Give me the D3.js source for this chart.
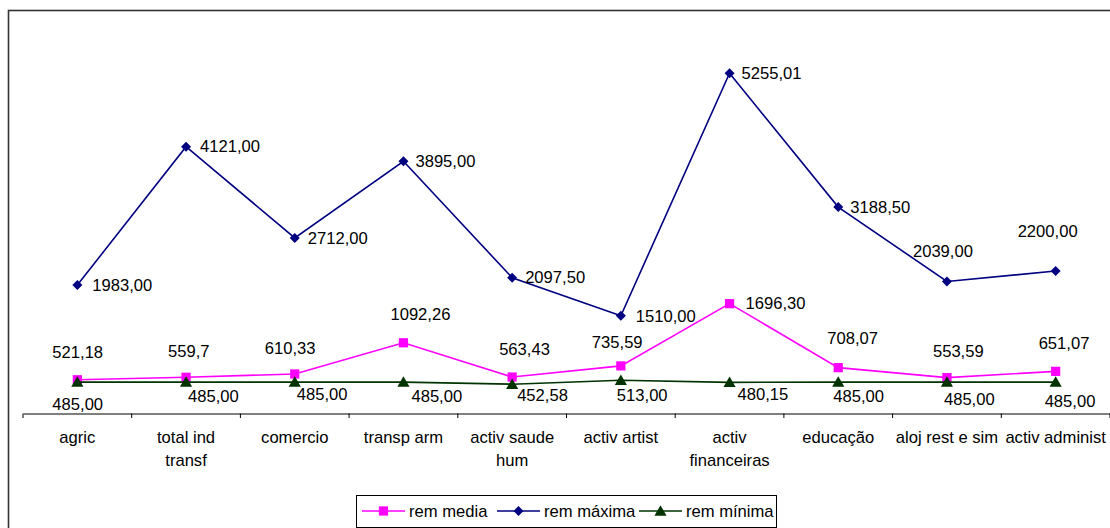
<!DOCTYPE html>
<html>
<head>
<meta charset="utf-8">
<script src="https://cdn.jsdelivr.net/npm/d3@7"></script>
<style>
  html, body { margin: 0; padding: 0; background: #fff; overflow: hidden; }
  svg { display: block; font-family: "Liberation Sans", Arial, sans-serif; }
</style>
</head>
<body>
<svg id="chart" width="1110" height="528"></svg>
<script>
// Categories (line breaks where the axis label wraps)
const categories = [
  "agric", "total ind\ntransf", "comercio", "transp arm", "activ saude\nhum",
  "activ artist", "activ\nfinanceiras", "educação", "aloj rest e sim", "activ administ"
];

// Series values
const remMedia  = [521.18, 559.7, 610.33, 1092.26, 563.43, 735.59, 1696.30, 708.07, 553.59, 651.07];
const remMaxima = [1983.00, 4121.00, 2712.00, 3895.00, 2097.50, 1510.00, 5255.01, 3188.50, 2039.00, 2200.00];
const remMinima = [485.00, 485.00, 485.00, 485.00, 452.58, 513.00, 480.15, 485.00, 485.00, 485.00];

// Value label texts (as printed)
const labMedia  = ["521,18", "559,7", "610,33", "1092,26", "563,43", "735,59", "1696,30", "708,07", "553,59", "651,07"];
const labMaxima = ["1983,00", "4121,00", "2712,00", "3895,00", "2097,50", "1510,00", "5255,01", "3188,50", "2039,00", "2200,00"];
const labMinima = ["485,00", "485,00", "485,00", "485,00", "452,58", "513,00", "480,15", "485,00", "485,00", "485,00"];

const seriesNames = ["rem media", "rem máxima", "rem mínima"];

// Value axis range
const yDomain = [0, 6000];

// ---- layout ----
const plot = { left: 23, right: 1110, top: 25, bottom: 413.5 };
const fontSize = 16.6;

// Data label offsets [dx from point to text start, dy from point to text middle]
const offMedia = [[-25,-28],[-18,-26],[-30,-26],[-13,-29],[-13,-28],[-29,-24],[16,0],[-11,-29],[-14,-26],[-17,-28]];
const offMaxima = [[15,0],[14,0],[13,0],[12,0],[13,0],[15,0],[12,0],[12,0],[-34,-30],[-38,-40]];
const offMinima = [[-25,22],[2,14],[2,12],[8,14],[5,11],[-4,15],[8,12],[-5,14],[-3,17],[-11,19]];

const svg = d3.select("#chart");

// outer chart frame
svg.append("rect")
  .attr("x", 8.5).attr("y", 10.5)
  .attr("width", 1200).attr("height", 600)
  .attr("fill", "#fff").attr("stroke", "#333").attr("stroke-width", 1.6);

const x = d3.scaleBand().domain(d3.range(categories.length))
  .range([plot.left, plot.right]).paddingInner(0).paddingOuter(0);
const y = d3.scaleLinear().domain(yDomain).range([plot.bottom, plot.top]);
const cx = i => x(i) + x.bandwidth() / 2;

// category axis
const xAxis = d3.axisBottom(x).tickSize(0).tickFormat("");
const gx = svg.append("g").attr("transform", `translate(0,${plot.bottom})`).call(xAxis);
gx.select(".domain").attr("stroke", "#000").attr("stroke-width", 1);
// tick marks at category boundaries
const bounds = d3.range(categories.length + 1).map(i => plot.left + i * x.bandwidth());
gx.selectAll("line.bound").data(bounds).join("line")
  .attr("class", "bound")
  .attr("x1", d => d).attr("x2", d => d)
  .attr("y1", 0).attr("y2", 4.5)
  .attr("stroke", "#000").attr("stroke-width", 1);

// category labels
categories.forEach((c, i) => {
  const lines = c.split("\n");
  const t = svg.append("text")
    .attr("x", cx(i)).attr("y", 442.5)
    .attr("text-anchor", "middle")
    .attr("font-size", fontSize).attr("fill", "#000");
  lines.forEach((ln, k) => {
    t.append("tspan").attr("x", cx(i)).attr("dy", k === 0 ? 0 : 23).text(ln);
  });
});

const series = [
  { name: seriesNames[1], values: remMaxima, labels: labMaxima, off: offMaxima, color: "#000080", marker: "diamond" },
  { name: seriesNames[0], values: remMedia,  labels: labMedia,  off: offMedia,  color: "#FF00FF", marker: "square" },
  { name: seriesNames[2], values: remMinima, labels: labMinima, off: offMinima, color: "#003300", marker: "triangle" }
];

const symbolFor = {
  square: d3.symbol().type(d3.symbolSquare).size(85),
  diamond: d3.symbol().type(d3.symbolDiamond2).size(64),
  triangle: d3.symbol().type(d3.symbolTriangle).size(64)
};
// triangles are drawn around their centroid; nudge so the box is centred on the point
const markerShift = { square: 0, diamond: 0, triangle: 1.2 };

const line = d3.line().x((d, i) => cx(i)).y(d => y(d));

series.forEach(s => {
  const g = svg.append("g");
  g.append("path").datum(s.values)
    .attr("d", line).attr("fill", "none")
    .attr("stroke", s.color).attr("stroke-width", 1.6);
  g.selectAll("path.mk").data(s.values).join("path")
    .attr("class", "mk")
    .attr("transform", (d, i) => `translate(${cx(i)},${y(d) + markerShift[s.marker]})`)
    .attr("d", symbolFor[s.marker]())
    .attr("fill", s.color);
});

// data labels
series.forEach(s => {
  svg.append("g").selectAll("text").data(s.values).join("text")
    .attr("x", (d, i) => cx(i) + s.off[i][0])
    .attr("y", (d, i) => y(d) + s.off[i][1])
    .attr("dy", "0.35em")
    .attr("font-size", fontSize).attr("fill", "#000")
    .text((d, i) => s.labels[i]);
});

// legend
const legend = svg.append("g");
legend.append("rect")
  .attr("x", 356.5).attr("y", 495.5).attr("width", 420).attr("height", 32)
  .attr("fill", "#fff").attr("stroke", "#000").attr("stroke-width", 1);
const legendItems = [
  { s: series[1], x0: 362 },
  { s: series[0], x0: 497 },
  { s: series[2], x0: 639 }
];
legendItems.forEach(({ s, x0 }) => {
  const ly = 511;
  legend.append("line").attr("x1", x0).attr("x2", x0 + 43).attr("y1", ly).attr("y2", ly)
    .attr("stroke", s.color).attr("stroke-width", 1.6);
  legend.append("path")
    .attr("transform", `translate(${x0 + 21.5},${ly + markerShift[s.marker]})`)
    .attr("d", symbolFor[s.marker]()).attr("fill", s.color);
  legend.append("text").attr("x", x0 + 47).attr("y", ly).attr("dy", "0.35em")
    .attr("font-size", fontSize).attr("fill", "#000").text(s.name);
});
</script>
</body>
</html>
